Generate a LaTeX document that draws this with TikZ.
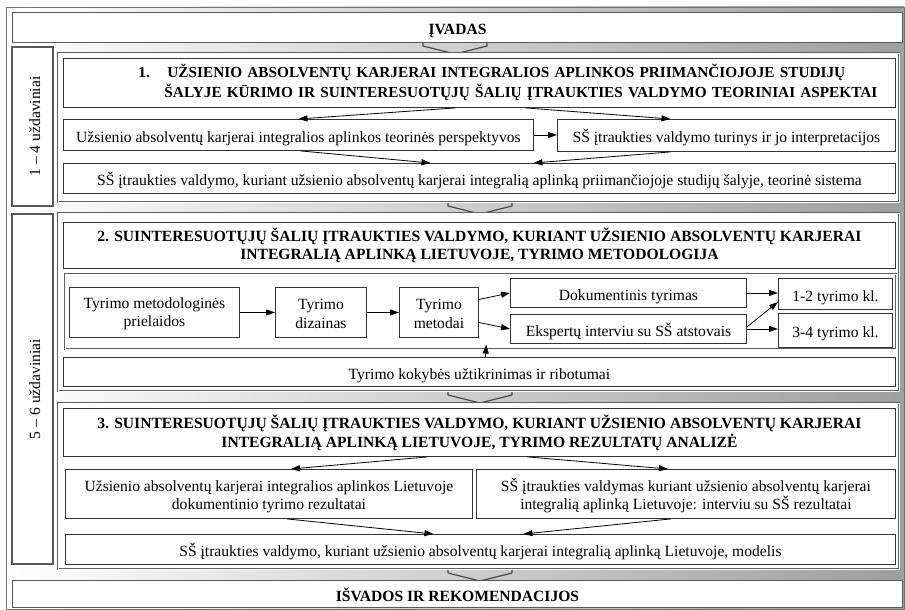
\documentclass[tikz,border=0pt]{standalone}
\usepackage{fontspec}
\setmainfont{Liberation Serif}
\usetikzlibrary{arrows.meta,calc}

\begin{document}
\begin{tikzpicture}[x=1pt,y=-1pt,
  % fixed line height and depth, so one-line texts sit alike
  strutted/.style={execute at begin node={\rule[-3pt]{0pt}{21pt}},
    execute at end node={\rule[-3pt]{0pt}{3pt}}},
  box/.style={draw=black!80, line width=0.9pt, fill=white, inner sep=0pt,
    align=center, anchor=north west,
    font=\fontsize{15.6pt}{18.5pt}\selectfont},
  sbox/.style={box, strutted},
  headbox/.style={box, font=\fontsize{15.6pt}{18.5pt}\selectfont\bfseries},
  frame/.style={draw=black!62, double=white, double distance=1.3pt,
    line width=0.55pt, fill=white, inner sep=0pt, anchor=north west},
  tag/.style={draw=black!65, line width=1.1pt, fill=white, inner sep=0pt,
    align=center, anchor=north west, strutted,
    font=\fontsize{15.6pt}{18.5pt}\selectfont},
  link/.style={draw=black, line width=0.8pt, -{Triangle[length=9pt,width=6pt]}},
  chev/.pic={\draw[black!72, line width=1.2pt, line join=round]
    (-19,-6) -- (-19,0) -- (-32,0) -- (-32,4) -- (0,12) -- (32,4) -- (32,0)
    -- (19,0) -- (19,-6);}
]
\useasboundingbox (0,0) rectangle (905,610);

% background panel with horizontal shading
\fill[left color=white, right color=black!38] (6,7) rectangle (904,609);
\draw[black!55, line width=0.8pt] (6,7) rectangle (904,609);

% block arrows between the stages
\pic at (455,42) {chev};
\pic at (480,202) {chev};
\pic at (480,391) {chev};
\pic at (480,569) {chev};

% introduction and conclusions
\node[tag, minimum width=890pt, minimum height=30pt] (intro) at (12,12) {\bfseries ĮVADAS};
\node[tag, minimum width=890pt, minimum height=27pt] (outro) at (12,580) {\bfseries IŠVADOS IR REKOMENDACIJOS};

% task labels
\node[tag, rotate=90, anchor=center, minimum width=159pt, minimum height=41pt] (l1) at (32.5,126.5) {1 – 4 uždaviniai};
\node[tag, rotate=90, anchor=center, minimum width=350pt, minimum height=41pt] (l2) at (32.5,389) {5 – 6 uždaviniai};

% stage frames
\node[frame, minimum width=841pt, minimum height=149pt] (s1) at (58,53) {};
\node[frame, minimum width=841pt, minimum height=178pt] (s2) at (58,213) {};
\node[frame, minimum width=841pt, minimum height=166pt] (s3) at (58,403) {};

% stage 1: theory
\node[headbox, minimum width=832pt, minimum height=49pt, text width=832pt, align=left,
  font=\fontsize{15.3pt}{20pt}\selectfont\bfseries] (t1) at (63,58)
  {\hspace*{75pt}\makebox[29pt][l]{1.}UŽSIENIO ABSOLVENTŲ KARJERAI INTEGRALIOS APLINKOS PRIIMANČIOJOJE STUDIJŲ\\
   \hspace*{101pt}ŠALYJE KŪRIMO IR SUINTERESUOTŲJŲ ŠALIŲ ĮTRAUKTIES VALDYMO TEORINIAI ASPEKTAI};
\node[sbox, minimum width=470pt, minimum height=31pt] (a) at (63,119) {Užsienio absolventų karjerai integralios aplinkos teorinės perspektyvos};
\node[sbox, minimum width=338pt, minimum height=32pt] (b) at (557,119) {SŠ įtraukties valdymo turinys ir jo interpretacijos};
\node[sbox, minimum width=832pt, minimum height=30pt] (c) at (63,163) {SŠ įtraukties valdymo, kuriant užsienio absolventų karjerai integralią aplinką priimančiojoje studijų šalyje, teorinė sistema};

\draw[link] ([xshift=-24pt]t1.south) -- (a.north);
\draw[link] ([xshift=46pt]t1.south) -- ([xshift=-56pt]b.north);
\draw[link] (a.east) -- (a.east -| b.west);
\draw[link] ([xshift=2pt]a.south) -- ([xshift=-49pt]c.north);
\draw[link] ([xshift=-56pt]b.south) -- ([xshift=54pt]c.north);

% stage 2: methodology
\node[headbox, minimum width=832pt, minimum height=46pt] (t2) at (63,222)
  {2. SUINTERESUOTŲJŲ ŠALIŲ ĮTRAUKTIES VALDYMO, KURIANT UŽSIENIO ABSOLVENTŲ KARJERAI\\
   INTEGRALIĄ APLINKĄ LIETUVOJE, TYRIMO METODOLOGIJA};
\node[frame, minimum width=831pt, minimum height=75pt] (m) at (65,274) {};
\node[box, minimum width=170pt, minimum height=50pt] (p1) at (69,287) {\rule{0pt}{13.5pt}Tyrimo metodologinės\\prielaidos};
\node[box, minimum width=91pt, minimum height=50pt] (p2) at (275,287) {\rule{0pt}{13.5pt}Tyrimo\\dizainas};
\node[box, minimum width=79pt, minimum height=50pt] (p3) at (399,287) {\rule{0pt}{13.5pt}Tyrimo\\metodai};
\node[sbox, minimum width=236pt, minimum height=29pt] (d1) at (510,278) {Dokumentinis tyrimas};
\node[sbox, minimum width=236pt, minimum height=29pt] (d2) at (510,314) {Ekspertų interviu su SŠ atstovais};
\node[sbox, minimum width=114pt, minimum height=31pt] (k1) at (778,278) {1-2 tyrimo kl.};
\node[sbox, minimum width=114pt, minimum height=34pt] (k2) at (778,313) {3-4 tyrimo kl.};
\node[sbox, minimum width=832pt, minimum height=29pt] (q) at (63,357) {Tyrimo kokybės užtikrinimas ir ribotumai};

\draw[link] (p1.east) -- (p2.west);
\draw[link] (p2.east) -- (p3.west);
\draw[link] ([yshift=13pt]p3.east) -- (d1.west);
\draw[link] ([yshift=-10pt]p3.east) -- (d2.west);
\draw[link] (d1.east) -- (d1.east -| k1.west);
\draw[link] (d2.east) -- (d2.east -| k2.west);
\draw[link] ([yshift=2pt]d2.east) -- ([yshift=-8pt]k1.west);
\draw[link] ([xshift=6pt]q.north) -- ([xshift=5.5pt,yshift=5pt]m.south);

% stage 3: results
\node[headbox, minimum width=832pt, minimum height=48pt,
  font=\fontsize{15.6pt}{19pt}\selectfont\bfseries] (t3) at (63,408)
  {3. SUINTERESUOTŲJŲ ŠALIŲ ĮTRAUKTIES VALDYMO, KURIANT UŽSIENIO ABSOLVENTŲ KARJERAI\\
   INTEGRALIĄ APLINKĄ LIETUVOJE, TYRIMO REZULTATŲ ANALIZĖ};
\node[box, minimum width=407pt, minimum height=49pt, font=\fontsize{15.6pt}{18pt}\selectfont] (e1) at (65,469)
  {\rule{0pt}{16.5pt}Užsienio absolventų karjerai integralios aplinkos Lietuvoje\\dokumentinio tyrimo rezultatai};
\node[box, minimum width=419pt, minimum height=49pt, font=\fontsize{15.6pt}{18pt}\selectfont] (e2) at (476,469)
  {\rule{0pt}{16.5pt}SŠ įtraukties valdymas kuriant užsienio absolventų karjerai\\integralią aplinką Lietuvoje: interviu su SŠ rezultatai};
\node[sbox, minimum width=830pt, minimum height=30pt] (f) at (65,534)
  {SŠ įtraukties valdymo, kuriant užsienio absolventų karjerai integralią aplinką Lietuvoje, modelis};

\draw[link] ([xshift=-52pt]t3.south) -- ([xshift=22pt]e1.north);
\draw[link] ([xshift=48pt]t3.south) -- ([xshift=-18pt]e2.north);
\draw[link] ([xshift=18pt]e1.south) -- ([xshift=-47pt]f.north);
\draw[link] ([xshift=-15pt]e2.south) -- ([xshift=43pt]f.north);
\end{tikzpicture}
\end{document}
